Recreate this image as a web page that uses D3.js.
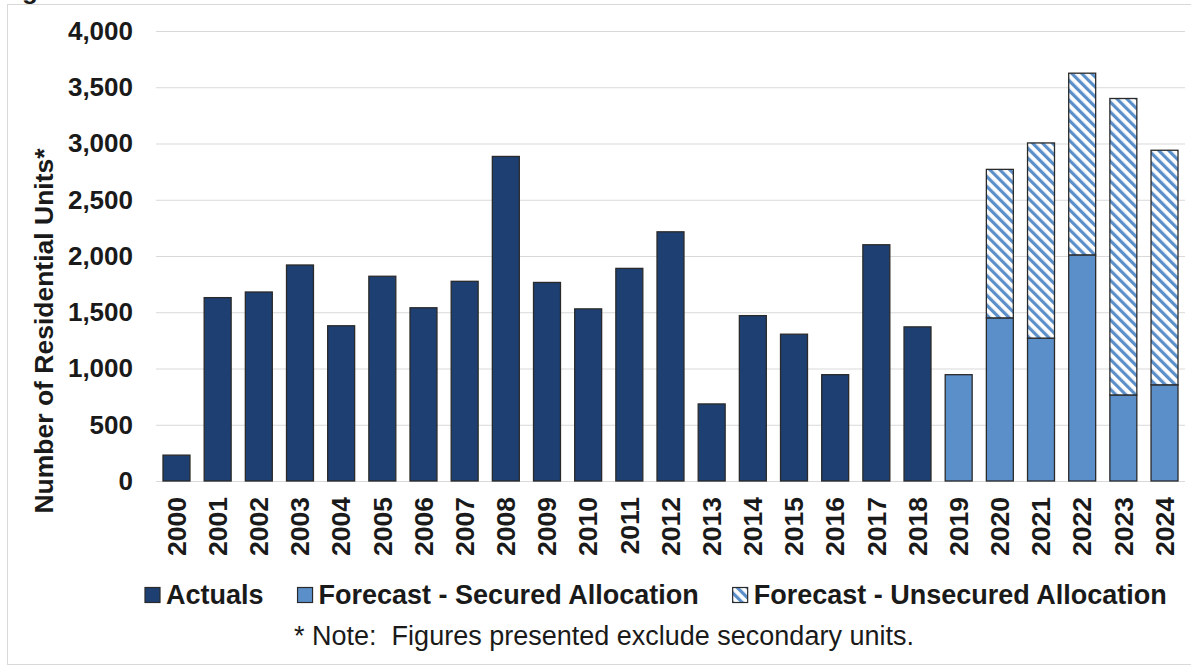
<!DOCTYPE html>
<html>
<head>
<meta charset="utf-8">
<script src="https://cdn.jsdelivr.net/npm/d3@7"></script>
<style>
  body { margin: 0; background: #fff; }
  text { font-family: "Liberation Sans", Arial, sans-serif; fill: #1a1a1a; }
</style>
</head>
<body>
<div id="chart"></div>
<script>
// data
var years = ["2000", "2001", "2002", "2003", "2004", "2005", "2006", "2007", "2008", "2009",
  "2010", "2011", "2012", "2013", "2014", "2015", "2016", "2017", "2018", "2019",
  "2020", "2021", "2022", "2023", "2024"];
var actuals = [230, 1630, 1680, 1920, 1380, 1820, 1540, 1775, 2885, 1765,
  1530, 1890, 2215, 685, 1470, 1305, 945, 2100, 1370, 0,
  0, 0, 0, 0, 0];
var secured = [0, 0, 0, 0, 0, 0, 0, 0, 0, 0,
  0, 0, 0, 0, 0, 0, 0, 0, 0, 945,
  1450, 1270, 2010, 765, 855];
var unsecured = [0, 0, 0, 0, 0, 0, 0, 0, 0, 0,
  0, 0, 0, 0, 0, 0, 0, 0, 0, 0,
  1320, 1735, 1615, 2635, 2085];
var yTicks = [0, 500, 1000, 1500, 2000, 2500, 3000, 3500, 4000];
var seriesNames = ["Actuals", "Forecast - Secured Allocation", "Forecast - Unsecured Allocation"];

var svgWidth = 1191;
var svgHeight = 666;
var margin = { top: 31, right: 6, bottom: 185, left: 156 };
var width = svgWidth - margin.left - margin.right;
var height = svgHeight - margin.top - margin.bottom;

var darkBlue = "#1d3f72";
var midBlue = "#5b8fca";

var svg = d3.select("#chart")
  .append("svg")
  .attr("width", svgWidth)
  .attr("height", svgHeight);

// hatch for the unsecured part
var defs = svg.append("defs");
var hatch = defs.append("pattern")
  .attr("id", "hatch")
  .attr("patternUnits", "userSpaceOnUse")
  .attr("width", 7)
  .attr("height", 7)
  .attr("patternTransform", "rotate(-45)");
hatch.append("rect").attr("width", 7).attr("height", 7).attr("fill", "#fff");
hatch.append("rect").attr("width", 3.2).attr("height", 7).attr("fill", midBlue);

// outer frame + cut-off title fragment
svg.append("rect")
  .attr("x", 7.5).attr("y", 4.5)
  .attr("width", svgWidth).attr("height", 660)
  .attr("fill", "none")
  .attr("stroke", "#d9d9d9");
svg.append("text")
  .attr("x", -1).attr("y", -1)
  .attr("font-size", "26px")
  .attr("font-weight", "bold")
  .text("Figure");

var chartGroup = svg.append("g")
  .attr("transform", `translate(${margin.left}, ${margin.top})`);

// table for the stack
var table = years.map(function(y, i) {
  return { year: y, actual: actuals[i], secured: secured[i], unsecured: unsecured[i] };
});
var keys = ["actual", "secured", "unsecured"];
var fills = { actual: darkBlue, secured: midBlue, unsecured: "url(#hatch)" };
var stacked = d3.stack().keys(keys)(table);

// scales
var xBandScale = d3.scaleBand()
  .domain(years)
  .range([0, width])
  .paddingInner(0.345)
  .paddingOuter(0.17);
var yLinearScale = d3.scaleLinear()
  .domain([0, 4000])
  .range([height, 0]);

// gridlines
chartGroup.append("g")
  .attr("class", "grid")
  .call(d3.axisLeft(yLinearScale).tickValues(yTicks).tickSize(-width).tickFormat(""))
  .call(g => g.select(".domain").remove())
  .call(g => g.selectAll("line").attr("stroke", "#d9d9d9").attr("stroke-width", 1.2));

// y axis labels
chartGroup.append("g")
  .call(d3.axisLeft(yLinearScale).tickValues(yTicks).tickSize(0).tickPadding(23)
    .tickFormat(d3.format(",")))
  .call(g => g.select(".domain").remove())
  .call(g => g.selectAll("text")
    .attr("font-size", "26px")
    .attr("font-weight", "bold")
    .attr("fill", "#1a1a1a")
    .attr("font-family", "Liberation Sans, Arial, sans-serif"));

// bars
chartGroup.selectAll(".layer")
  .data(stacked)
  .enter()
  .append("g")
  .attr("class", "layer")
  .attr("fill", d => fills[d.key])
  .selectAll("rect")
  .data(d => d.filter(p => p[1] - p[0] > 0))
  .enter()
  .append("rect")
  .attr("x", d => xBandScale(d.data.year))
  .attr("y", d => yLinearScale(d[1]))
  .attr("width", xBandScale.bandwidth())
  .attr("height", d => yLinearScale(d[0]) - yLinearScale(d[1]))
  .attr("stroke", "#2a2a2a")
  .attr("stroke-width", 1.3);

// x axis labels (rotated)
chartGroup.append("g")
  .attr("transform", `translate(0, ${height})`)
  .call(d3.axisBottom(xBandScale).tickSize(0).tickPadding(0))
  .call(g => g.select(".domain").remove())
  .call(g => g.selectAll("text")
    .attr("font-size", "26.5px")
    .attr("font-weight", "bold")
    .attr("fill", "#1a1a1a")
    .attr("font-family", "Liberation Sans, Arial, sans-serif")
    .attr("text-anchor", "end")
    .attr("transform", "rotate(-90)")
    .attr("x", -16)
    .attr("y", 0)
    .attr("dy", "0.35em"));

// y axis title
svg.append("text")
  .attr("transform", "translate(53, 331) rotate(-90)")
  .attr("text-anchor", "middle")
  .attr("font-size", "26.5px")
  .attr("font-weight", "bold")
  .text("Number of Residential Units*");

// legend
var legend = svg.append("g").attr("transform", "translate(0, 595)");
var legendFills = [darkBlue, midBlue, "url(#hatch)"];
var lx = 145;
seriesNames.forEach(function(name, i) {
  legend.append("rect")
    .attr("x", lx).attr("y", -7.5)
    .attr("width", 15).attr("height", 15)
    .attr("fill", legendFills[i])
    .attr("stroke", "#2a2a2a")
    .attr("stroke-width", 1.2);
  var t = legend.append("text")
    .attr("x", lx + 21).attr("y", 0)
    .attr("dy", "0.35em")
    .attr("font-size", "27px")
    .attr("font-weight", "bold")
    .text(name);
  lx += 21 + t.node().getComputedTextLength() + 34;
});

// footnote (two spaces after the colon kept)
svg.append("text")
  .attr("x", 604)
  .attr("y", 636)
  .attr("dy", "0.35em")
  .attr("text-anchor", "middle")
  .attr("font-size", "27px")
  .style("white-space", "pre")
  .text("* Note:  Figures presented exclude secondary units.");
</script>
</body>
</html>
